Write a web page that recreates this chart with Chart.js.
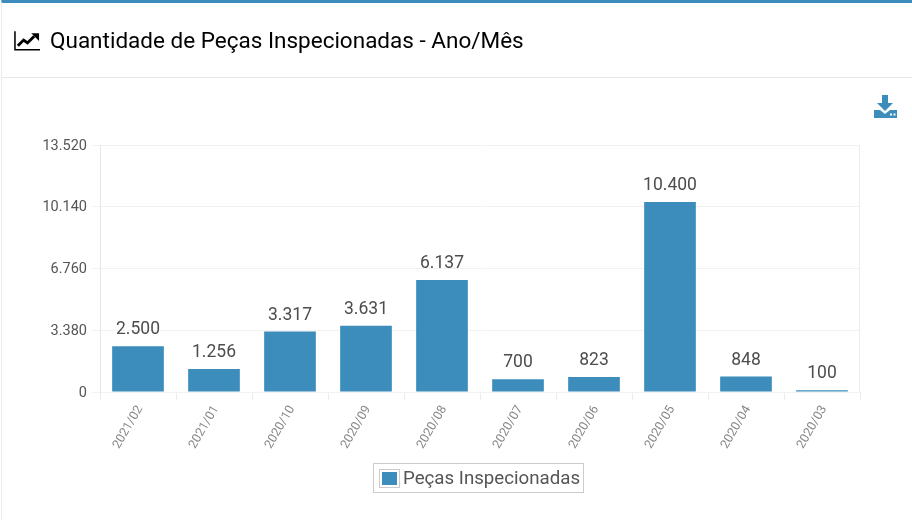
<!DOCTYPE html>
<html>
<head>
<meta charset="utf-8">
<title>Quantidade de Peças Inspecionadas</title>
<script src="https://cdn.jsdelivr.net/npm/chart.js@4/dist/chart.umd.min.js"></script>
<style>
    html, body { margin: 0; padding: 0; background: #fff; }
    body { width: 912px; height: 520px; overflow: hidden; position: relative; font-family: Roboto, sans-serif; }
    .card { position: absolute; left: 1px; top: 0; width: 911px; height: 520px; border-top: 3px solid #3c8dbc; border-left: 1px solid #ececec; box-sizing: border-box; }
    .cabecalho { position: absolute; left: 0; top: 0; width: 100%; height: 74px; border-bottom: 1px solid #e8e8e8; }
    .icone { position: absolute; left: 12px; top: 28px; }
    h3 { position: absolute; left: 48px; top: 23px; margin: 0; font-weight: 400; font-size: 22.5px; line-height: 28px; color: #000; white-space: nowrap; }
    .baixar { position: absolute; left: 873px; top: 95px; }
    #myChart { position: absolute; left: 0; top: 0; }
    #legenda { position: absolute; left: 373px; top: 463px; width: 211px; height: 30px; border: 1px solid #ccc; box-sizing: border-box; font-size: 18.7px; line-height: 28px; color: #555; white-space: nowrap; }
    #legenda i { position: absolute; left: 5px; top: 5px; width: 15px; height: 13px; border: 1px solid #ccc; padding: 2px; background: #3c8dbc; background-clip: content-box; }
    #legenda span { position: absolute; left: 29px; top: 0; }
</style>
</head>
<body>
<canvas id="myChart" width="912" height="520"></canvas>
<div class="card">
    <div class="cabecalho">
        <svg class="icone" width="26" height="20" viewBox="0 0 27 20">
            <path d="M1 0V19H27" fill="none" stroke="#000" stroke-width="1.6"/>
            <path d="M4 15L10 9L14 12L21 5" fill="none" stroke="#000" stroke-width="3"/>
            <path d="M18 2H26V10Z" fill="#000"/>
        </svg>
        <h3 id="titulo"></h3>
    </div>
</div>
<svg class="baixar" width="25" height="24" viewBox="0 0 25 24">
    <path d="M9 0H15V8H20L12 16L4 8H9Z" fill="#3c8dbc"/>
    <path d="M1 15H7L12 19L17 15H24V23H1Z" fill="#3c8dbc"/>
    <rect x="17" y="18.5" width="2" height="2" fill="#fff"/>
    <rect x="20.5" y="18.5" width="2" height="2" fill="#fff"/>
</svg>
<div id="legenda"><i></i><span id="legendaTexto"></span></div>

<script>
const TITULO = "Quantidade de Peças Inspecionadas - Ano/Mês"
const SERIE = "Peças Inspecionadas"
const categorias = ['2021/02', '2021/01', '2020/10', '2020/09', '2020/08', '2020/07', '2020/06', '2020/05', '2020/04', '2020/03']
const valores = [2500, 1256, 3317, 3631, 6137, 700, 823, 10400, 848, 100]
const ticksY = [0, 3380, 6760, 10140, 13520]

const AZUL = '#3c8dbc'

document.getElementById('titulo').textContent = TITULO
document.getElementById('legendaTexto').textContent = SERIE

const formatar = (n) => n.toLocaleString('pt-BR')

// escreve o valor em cima de cada barra e fecha a moldura do grafico
const rotulos = {
    id: 'rotulos',
    beforeDatasetsDraw(chart) {
        const { ctx, chartArea } = chart
        ctx.save()
        ctx.strokeStyle = '#ececec'
        ctx.lineWidth = 1
        ctx.beginPath()
        ctx.moveTo(Math.round(chartArea.right) - 0.5, chartArea.top)
        ctx.lineTo(Math.round(chartArea.right) - 0.5, chartArea.bottom)
        ctx.stroke()
        ctx.restore()
    },
    afterDatasetsDraw(chart) {
        const ctx = chart.ctx
        const meta = chart.getDatasetMeta(0)
        ctx.save()
        ctx.font = '17.5px Roboto'
        ctx.fillStyle = '#4d4d4d'
        ctx.textAlign = 'center'
        ctx.textBaseline = 'bottom'
        meta.data.forEach((barra, i) => {
            ctx.fillText(formatar(valores[i]), barra.x, barra.y - 7.5)
        })
        ctx.restore()
    }
}

var ctx = document.getElementById('myChart')
var myChart = new Chart(ctx, {
    type: 'bar',
    plugins: [rotulos],
    data: {
        labels: categorias,
        datasets: [{
            label: SERIE,
            data: valores,
            backgroundColor: AZUL,
            borderWidth: 0,
            barPercentage: 0.68,
            categoryPercentage: 1
        }]
    },
    options: {
        responsive: false,
        animation: false,
        layout: { padding: { top: 145, right: 52, left: 0, bottom: 0 } },
        plugins: {
            legend: { display: false },
            tooltip: { enabled: false }
        },
        scales: {
            x: {
                afterFit: (escala) => { escala.height = 128 },
                grid: { drawOnChartArea: false, tickColor: '#ececec', tickLength: 8, offset: true },
                border: { color: '#e6e6e6', z: -1 },
                ticks: {
                    autoSkip: false,
                    minRotation: 60,
                    maxRotation: 60,
                    padding: 3,
                    labelOffset: 2,
                    color: '#888',
                    font: { family: 'Roboto', size: 12.5 }
                }
            },
            y: {
                min: 0,
                max: 13520,
                afterFit: (escala) => { escala.width = 100 },
                afterBuildTicks: (escala) => { escala.ticks = ticksY.map(v => ({ value: v })) },
                grid: { color: '#f2f2f2', tickLength: 8 },
                border: { color: '#e6e6e6', z: -1 },
                ticks: {
                    padding: 5,
                    labelOffset: 1,
                    color: '#555',
                    font: { family: 'Roboto', size: 14.5 },
                    callback: (v) => formatar(v)
                }
            }
        }
    }
})
</script>
</body>
</html>
